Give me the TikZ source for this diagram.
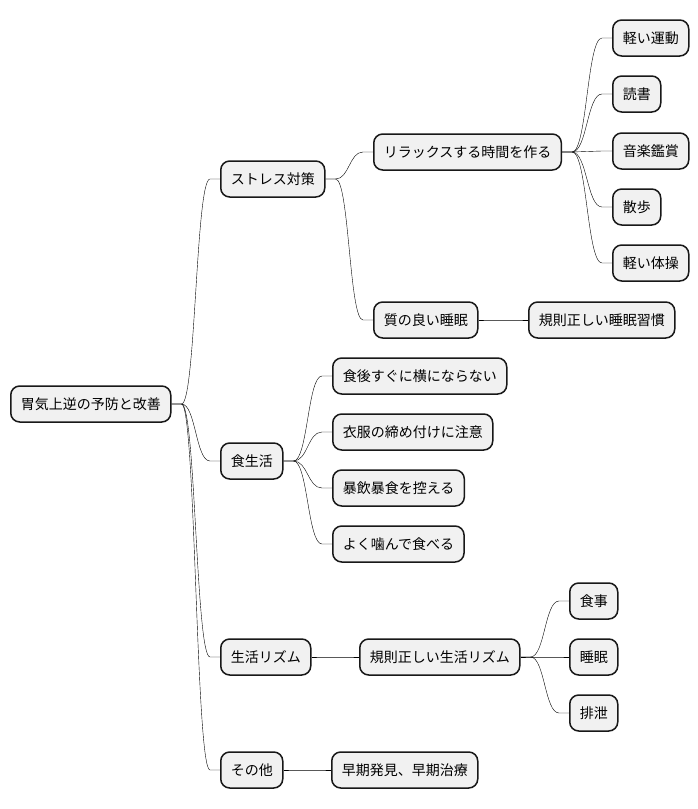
\documentclass[tikz,border=0pt]{standalone}
\usepackage{fontspec}
\setmainfont{Noto Sans CJK JP}
\usetikzlibrary{calc}
\definecolor{boxfill}{HTML}{F1F1F1}
\definecolor{boxline}{HTML}{181818}
\tikzset{
  mm/.style={draw=boxline, fill=boxfill, line width=1.5pt, rounded corners=9pt,
    anchor=west, inner xsep=10pt, inner ysep=0pt, minimum height=36pt,
    font=\fontsize{14pt}{16pt}\selectfont, text=black},
  link/.style={draw=boxline, line width=1.2pt,
    to path={let \p1=(\tikztostart), \p2=(\tikztotarget) in
      -- (\x1+10pt,\y1) .. controls ({(\x1+\x2)/2},\y1) and ({(\x1+\x2)/2},\y2) .. (\x2-10pt,\y2) -- (\x2,\y2)}}
}
\begin{document}
\begin{tikzpicture}[x=1pt,y=-1pt]
\path[use as bounding box, fill=white] (0,0) rectangle (698,809);
% root
\node[mm] (root) at (10,404) {胃気上逆の予防と改善};
% level 1
\node[mm] (stress) at (220,179) {ストレス対策};
\node[mm] (shoku) at (220,461) {食生活};
\node[mm] (rhythm) at (220,657) {生活リズム};
\node[mm] (other) at (220,770) {その他};
% level 2
\node[mm] (relax) at (373,152) {リラックスする時間を作る};
\node[mm] (sleepq) at (373,320) {質の良い睡眠};
\node[mm] (sleeph) at (528,320) {規則正しい睡眠習慣};
\node[mm] (s1) at (332,376) {食後すぐに横にならない};
\node[mm] (s2) at (332,432) {衣服の締め付けに注意};
\node[mm] (s3) at (332,488) {暴飲暴食を控える};
\node[mm] (s4) at (332,544) {よく噛んで食べる};
\node[mm] (rr) at (359,657) {規則正しい生活リズム};
\node[mm] (early) at (331,770) {早期発見、早期治療};
% level 3
\node[mm] (r1) at (612,38) {軽い運動};
\node[mm] (r2) at (612,94) {読書};
\node[mm] (r3) at (612,151) {音楽鑑賞};
\node[mm] (r4) at (612,207) {散歩};
\node[mm] (r5) at (612,263) {軽い体操};
\node[mm] (q1) at (569,601) {食事};
\node[mm] (q2) at (569,657) {睡眠};
\node[mm] (q3) at (569,713) {排泄};
% links
\foreach \c in {stress,shoku,rhythm,other} \draw (root.east) to[link] (\c.west);
\foreach \c in {relax,sleepq} \draw (stress.east) to[link] (\c.west);
\draw (sleepq.east) to[link] (sleeph.west);
\foreach \c in {r1,r2,r3,r4,r5} \draw (relax.east) to[link] (\c.west);
\foreach \c in {s1,s2,s3,s4} \draw (shoku.east) to[link] (\c.west);
\draw (rhythm.east) to[link] (rr.west);
\foreach \c in {q1,q2,q3} \draw (rr.east) to[link] (\c.west);
\draw (other.east) to[link] (early.west);
\end{tikzpicture}
\end{document}
